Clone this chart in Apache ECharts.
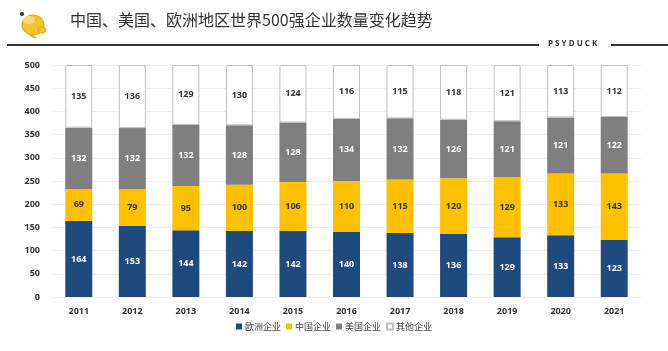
<!DOCTYPE html>
<html>
<head>
<meta charset="utf-8">
<script src="https://cdn.jsdelivr.net/npm/echarts@6/dist/echarts.min.js"></script>
<style>
  html, body { margin: 0; padding: 0; background: #fff; }
  #main { width: 668px; height: 351px; }
</style>
</head>
<body>
<div id="main"></div>
<script>
// 年份
const years = ['2011', '2012', '2013', '2014', '2015', '2016', '2017', '2018', '2019', '2020', '2021']
// 各地区企业数量
const europe = [164, 153, 144, 142, 142, 140, 138, 136, 129, 133, 123]
const china = [69, 79, 95, 100, 106, 110, 115, 120, 129, 133, 143]
const usa = [132, 132, 132, 128, 128, 134, 132, 126, 121, 121, 122]
const others = [135, 136, 129, 130, 124, 116, 115, 118, 121, 113, 112]
const yTicks = [0, 50, 100, 150, 200, 250, 300, 350, 400, 450, 500]

const font = '"Open Sans", "Noto Sans CJK SC", sans-serif'

function barSeries (name, data, color, labelColor, border) {
  return {
    name: name,
    type: 'bar',
    stack: 'total',
    barWidth: 27,
    data: data,
    itemStyle: {
      color: color,
      borderColor: border || color,
      borderWidth: border ? 1 : 0
    },
    label: {
      show: true,
      position: 'inside',
      color: labelColor,
      fontSize: 9,
      fontWeight: 'bold',
      fontFamily: font
    }
  }
}

const chart = echarts.init(document.getElementById('main'))
chart.setOption({
  animation: false,
  textStyle: { fontFamily: font },
  graphic: [
    // 小鸭子 logo
    { type: 'ellipse', shape: { cx: 33, cy: 25, rx: 11, ry: 10 }, style: { fill: '#f2c12e', stroke: '#d9a21a', lineWidth: 1 } },
    { type: 'ellipse', shape: { cx: 29, cy: 20, rx: 6, ry: 4 }, style: { fill: '#f9dc7a' } },
    { type: 'ellipse', shape: { cx: 42, cy: 30, rx: 4, ry: 3 }, style: { fill: '#f2c12e', stroke: '#d9a21a', lineWidth: 1 } },
    { type: 'circle', shape: { cx: 22, cy: 14, r: 2 }, style: { fill: '#333' } },
    { type: 'line', shape: { x1: 30, y1: 35, x2: 36, y2: 38 }, style: { stroke: '#e0b040', lineWidth: 2 } },
    {
      type: 'text', left: 70, top: 12,
      style: { text: '中国、美国、欧洲地区世界500强企业数量变化趋势', fill: '#333', font: '16px "Noto Sans CJK SC", sans-serif' }
    },
    { type: 'line', shape: { x1: 7, y1: 45, x2: 539, y2: 45 }, style: { stroke: '#333', lineWidth: 2 } },
    { type: 'line', shape: { x1: 611, y1: 45, x2: 668, y2: 45 }, style: { stroke: '#333', lineWidth: 2 } },
    {
      type: 'text', left: 548, top: 40,
      style: { text: 'P S Y D U C K', fill: '#333', font: 'bold 8px "Open Sans", sans-serif' }
    }
  ],
  legend: {
    bottom: 15,
    left: 'center',
    itemWidth: 6,
    itemHeight: 6,
    itemGap: 5,
    icon: 'rect',
    textStyle: { fontSize: 9, color: '#444', fontFamily: '"Noto Sans CJK SC", sans-serif', padding: [0, 0, 0, -2] },
    data: ['欧洲企业', '中国企业', '美国企业', '其他企业']
  },
  grid: {
    left: 52,
    right: 27,
    top: 65,
    bottom: 54
  },
  xAxis: {
    type: 'category',
    data: years,
    axisTick: { show: false },
    axisLine: { show: false },
    axisLabel: { color: '#333', fontSize: 9, fontWeight: 'bold', margin: 10 }
  },
  yAxis: {
    type: 'value',
    min: yTicks[0],
    max: yTicks[yTicks.length - 1],
    interval: 50,
    axisLine: { show: false },
    axisTick: { show: false },
    axisLabel: { color: '#333', fontSize: 9, fontWeight: 'bold', margin: 12 },
    splitLine: { lineStyle: { color: '#eeeeee' } }
  },
  series: [
    barSeries('欧洲企业', europe, '#1f4a7d', '#ffffff'),
    barSeries('中国企业', china, '#ffc000', '#333333'),
    barSeries('美国企业', usa, '#7f7f7f', '#ffffff'),
    barSeries('其他企业', others, '#ffffff', '#333333', '#bfbfbf')
  ]
})
</script>
</body>
</html>
